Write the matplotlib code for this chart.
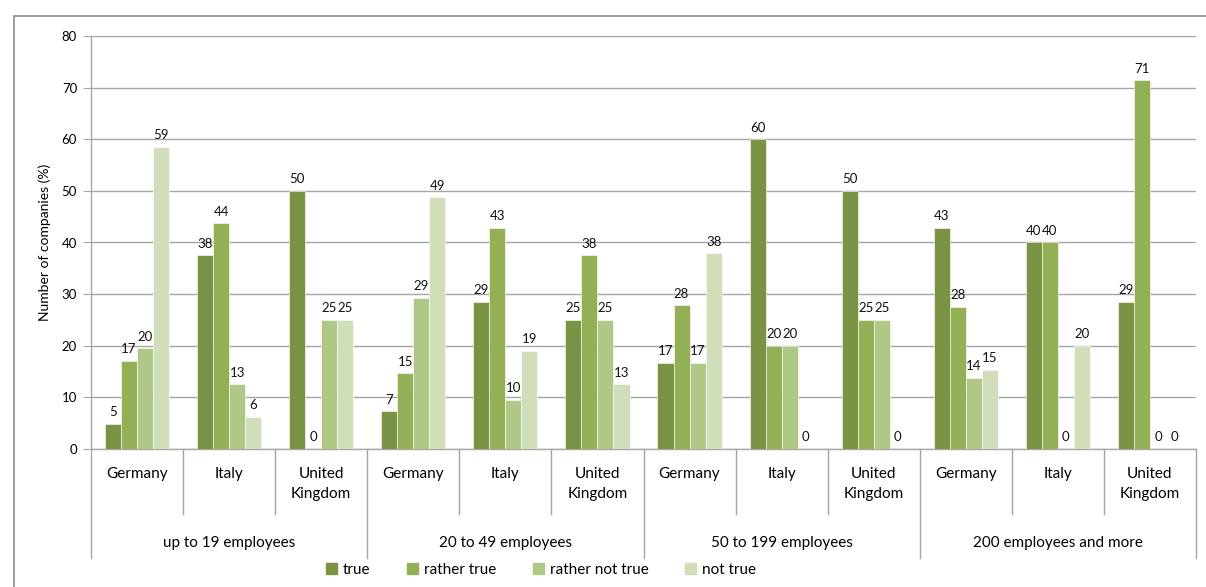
import matplotlib.pyplot as plt
from matplotlib.patches import Rectangle
from matplotlib.transforms import blended_transform_factory

plt.rcParams["font.family"] = ["Lato", "DejaVu Sans"]

# Survey answers per company size and country (share of companies, %)
sizes = ["up to 19 employees", "20 to 49 employees", "50 to 199 employees",
         "200 employees and more"]
countries = ["Germany", "Italy", "United\nKingdom"]
answers = ["true", "rather true", "rather not true", "not true"]

true_vals = [4.88, 37.5, 50.0, 7.32, 28.57, 25.0, 16.7, 60.0, 50.0, 42.9, 40.0, 28.57]
rather_true = [17.07, 43.75, 0.0, 14.63, 42.86, 37.5, 27.8, 20.0, 25.0, 27.6, 40.0, 71.43]
rather_not_true = [19.51, 12.5, 25.0, 29.27, 9.52, 25.0, 16.7, 20.0, 25.0, 13.8, 0.0, 0.0]
not_true = [58.54, 6.25, 25.0, 48.78, 19.05, 12.5, 37.9, 0.0, 0.0, 15.3, 20.0, 0.0]

colors = ["#7a9344", "#93b057", "#afc886", "#d0deba"]

W, H = 1206, 587
fig = plt.figure(figsize=(W / 100, H / 100), dpi=100)
ax = fig.add_axes([91 / W, (H - 449) / H, (1196 - 91) / W, 413 / H])

series = [true_vals, rather_true, rather_not_true, not_true]
n = len(true_vals)
bw = 0.174
for i, (vals, col) in enumerate(zip(series, colors)):
    xs = [k + (i - 1.5) * bw for k in range(n)]
    bars = ax.bar(xs, vals, width=bw, color=col, edgecolor="white", linewidth=0.4, zorder=3)
    for b, v in zip(bars, vals):
        ax.annotate(f"{int(v + 0.5)}", (b.get_x() + b.get_width() / 2, v),
                    xytext=(0, 4), textcoords="offset points", ha="center",
                    va="bottom", fontsize=9.5, color="#111111", zorder=4)

ax.set_xlim(-0.5, n - 0.5)
ax.set_ylim(0, 80)
ax.set_yticks(range(0, 81, 10))
ax.yaxis.grid(True, color="#a6a6a6", linewidth=1.0, zorder=0)
ax.tick_params(axis="y", length=6, color="#a6a6a6", labelsize=9.5, pad=4)
ax.set_xticks([])
for s in ["top", "right"]:
    ax.spines[s].set_visible(False)
for s in ["left", "bottom"]:
    ax.spines[s].set_color("#a6a6a6")
    ax.spines[s].set_linewidth(1.0)
ax.set_ylabel("Number of companies (%)", fontsize=10, labelpad=8)

# category axis: country row and size row with dividers
tr = blended_transform_factory(ax.transData, ax.transAxes)
row1 = (449 - 514) / 413
row2 = (449 - 558) / 413
for k in range(n + 1):
    bottom = row2 if k % 3 == 0 else row1
    ax.plot([k - 0.5, k - 0.5], [0, bottom], transform=tr, color="#a6a6a6",
            linewidth=1.0, clip_on=False)
for k in range(n):
    ax.text(k, (449 - 467) / 413, countries[k % 3], transform=tr, ha="center",
            va="top", fontsize=11, linespacing=1.55)
for g, name in enumerate(sizes):
    ax.text(g * 3 + 1, (449 - 543) / 413, name, transform=tr, ha="center",
            va="center", fontsize=11)

handles = [Rectangle((0, 0), 1, 1, color=c) for c in colors]
fig.legend(handles, answers, loc="center", bbox_to_anchor=(541 / W, 1 - 570 / H),
           ncol=4, frameon=False, fontsize=11, handlelength=0.7,
           handleheight=0.7, handletextpad=0.4, columnspacing=2.4)

# outer chart frame
fig.patches.append(Rectangle((14 / W, -0.1), 1.2, 1.1 - 16 / H, transform=fig.transFigure,
                             fill=False, edgecolor="#8c8c8c", linewidth=1.2))

fig.savefig("out.png", dpi=100)
